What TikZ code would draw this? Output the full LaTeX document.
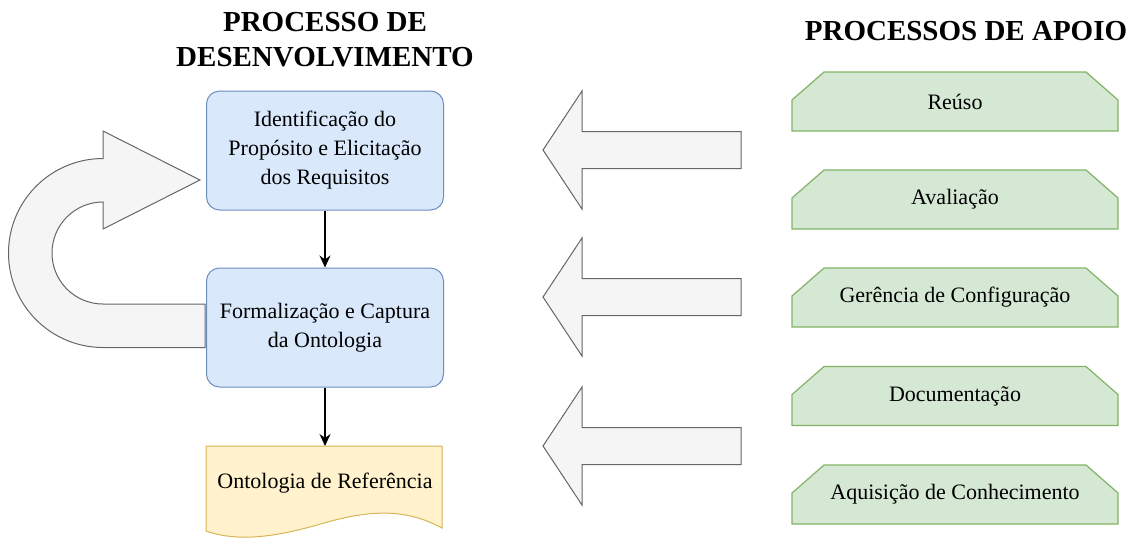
\documentclass[tikz,border=0pt]{standalone}
\usepackage{fontspec}
\setmainfont{Liberation Serif}
\usetikzlibrary{arrows.meta}

\definecolor{procfill}{HTML}{DAE8FC}
\definecolor{procdraw}{HTML}{6C8EBF}
\definecolor{docfill}{HTML}{FFF2CC}
\definecolor{docdraw}{HTML}{D6B656}
\definecolor{apoiofill}{HTML}{D5E8D4}
\definecolor{apoiodraw}{HTML}{82B366}
\definecolor{setafill}{HTML}{F5F5F5}
\definecolor{setadraw}{HTML}{666666}

\tikzset{
  procbox/.style={draw=procdraw, fill=procfill, line width=1pt, rounded corners=13pt,
    minimum width=237pt, minimum height=119pt, align=center, font=\fontsize{22}{29}\selectfont},
  txt/.style={align=center, font=\fontsize{22}{29}\selectfont},
  titulo/.style={align=center, font=\fontsize{29}{35}\selectfont\bfseries},
  seta/.style={fill=setafill, draw=setadraw, line width=1pt, line join=miter},
  apoioshape/.style={fill=apoiofill, draw=apoiodraw, line width=1.2pt},
  fluxo/.style={-{Stealth[length=12pt,width=11pt]}, line width=1.4pt}
}

\begin{document}
\begin{tikzpicture}[x=1pt, y=-1pt]
\useasboundingbox (0,0) rectangle (1132,542);

% titulos
\node[titulo] (tdesenv) at (325,40) {PROCESSO DE\\DESENVOLVIMENTO};
\node[titulo] (tapoio) at (966,31) {PROCESSOS DE APOIO};

% seta de retorno
\draw[seta] (205,304) -- (103,304) arc[start angle=90, end angle=270, radius=51]
  -- (103,229) -- (200,180) -- (103,131) -- (103,158.5)
  arc[start angle=270, end angle=90, radius=94.5] -- (205,347.5) -- cycle;

% processo de desenvolvimento
\node[procbox] (ident) at (325,150.5) {Identificação do\\Propósito e Elicitação\\dos Requisitos};
\node[procbox] (formal) at (325,327.5) {Formalização e Captura\\da Ontologia};

\filldraw[fill=docfill, draw=docdraw, line width=1pt] (206,446) -- (442,446) -- (442,528)
  .. controls (405,508) and (370,510) .. (324,523)
  .. controls (280,536) and (240,543) .. (206,531) -- cycle;
\coordinate (doctop) at (325,446);
\node[txt] (ontref) at (325,483) {Ontologia de Referência};

\draw[fluxo] (ident) -- (formal);
\draw[fluxo] (formal) -- (doctop);

% setas dos processos de apoio
\foreach \y in {150,297,446}
  \draw[seta] (741,\y-18.5) -- (582,\y-18.5) -- (582,\y-59) -- (543,\y)
    -- (582,\y+59) -- (582,\y+18.5) -- (741,\y+18.5) -- cycle;

% processos de apoio
\foreach \y/\nome/\texto in {101.5/reuso/Reúso, 199.5/avaliacao/Avaliação,
    297.5/gerencia/Gerência de Configuração, 396/document/Documentação,
    494.5/aquisicao/Aquisição de Conhecimento}
{
  \filldraw[apoioshape] (792,\y+29.5) -- (792,\y-1.5) -- (824,\y-29.5) -- (1086,\y-29.5)
    -- (1118,\y-1.5) -- (1118,\y+29.5) -- cycle;
  \node[txt] (\nome) at (955,\y) {\texto};
}
\end{tikzpicture}
\end{document}
